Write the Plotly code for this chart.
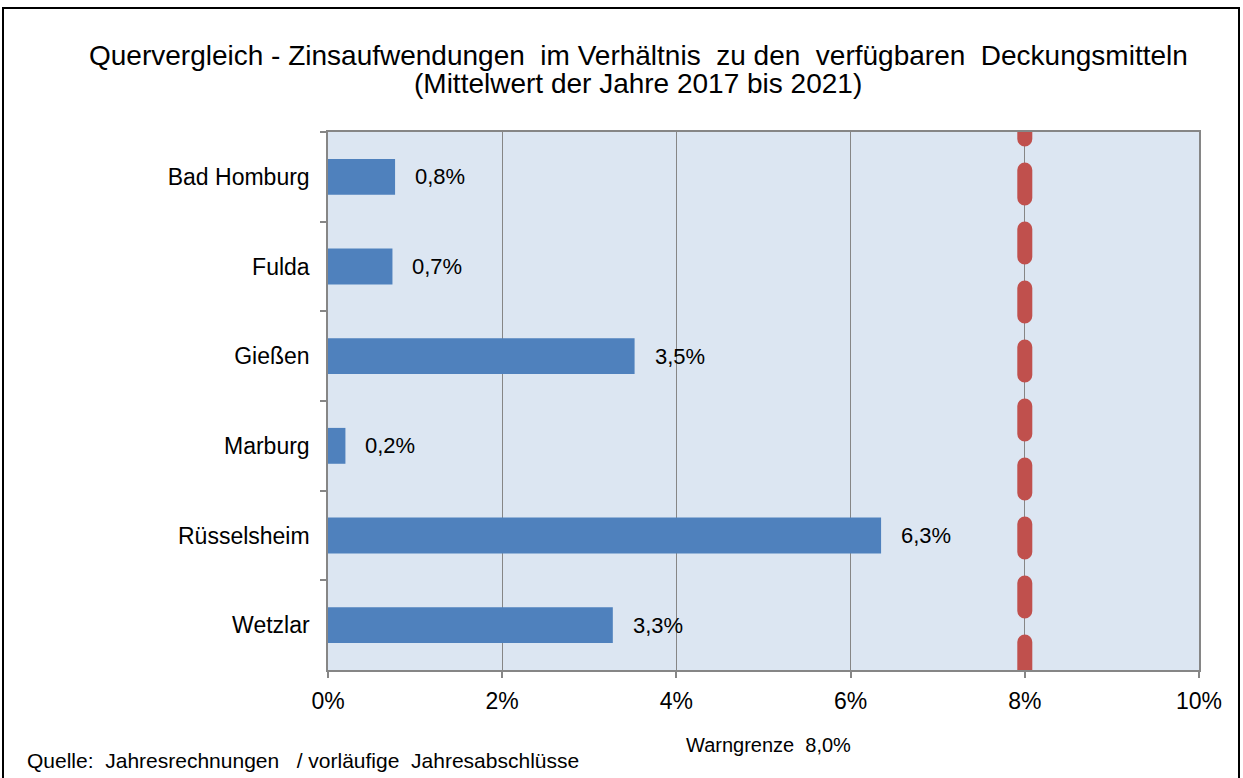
import plotly.graph_objects as go

categories = ["Bad Homburg", "Fulda", "Gießen", "Marburg", "Rüsselsheim", "Wetzlar"]
values = [0.77, 0.74, 3.52, 0.2, 6.35, 3.27]
value_labels = ["0,8%", "0,7%", "3,5%", "0,2%", "6,3%", "3,3%"]
x_ticks = [0, 2, 4, 6, 8, 10]
x_tick_labels = ["0%", "2%", "4%", "6%", "8%", "10%"]
warn_limit = 8.0
warn_label = "Warngrenze  8,0%"
title_lines = ["Quervergleich - Zinsaufwendungen  im Verhältnis  zu den  verfügbaren  Deckungsmitteln",
               "(Mittelwert der Jahre 2017 bis 2021)"]
source_text = "Quelle:  Jahresrechnungen   / vorläufige  Jahresabschlüsse"

FONT = "Liberation Sans, Arial, sans-serif"
W, H = 1243, 778
L, R, T, B = 328, 44, 132, 108
pw, ph = W - L - R, H - T - B

def px(x):
    return (x - L) / pw

def py(y):
    return (H - B - y) / ph

n = len(categories)

fig = go.Figure()
fig.add_trace(go.Bar(
    x=values, y=categories, orientation="h",
    marker=dict(color="#4F81BD", line=dict(width=0)),
    width=0.4, hoverinfo="skip",
))

annotations = []
for v, c, lab in zip(values, categories, value_labels):
    annotations.append(dict(x=v, y=c, xref="x", yref="y", text=lab, showarrow=False,
                            xanchor="left", yanchor="middle", xshift=18,
                            font=dict(family=FONT, size=22, color="#000000")))

for line, yc in zip(title_lines, [55, 83]):
    annotations.append(dict(x=px(638), y=py(yc), xref="paper", yref="paper",
                            text=line, showarrow=False,
                            xanchor="center", yanchor="middle", align="center",
                            font=dict(family=FONT, size=28, color="#000000")))
annotations.append(dict(x=px(25), y=py(760), xref="paper", yref="paper",
                        text=source_text, showarrow=False, xanchor="left", yanchor="middle",
                        font=dict(family=FONT, size=21, color="#000000")))
annotations.append(dict(x=px(768), y=py(745), xref="paper", yref="paper",
                        text=warn_label, showarrow=False, xanchor="center", yanchor="middle",
                        font=dict(family=FONT, size=20, color="#000000")))

shapes = [
    dict(type="line", xref="x", yref="y", x0=warn_limit, x1=warn_limit, y0=n - 0.5, y1=-0.9,
         line=dict(color="#C0504D", width=15, dash="28px,31px"), layer="above"),
    dict(type="rect", xref="paper", yref="paper", x0=px(3), x1=px(1239), y0=py(8), y1=py(800),
         line=dict(color="#000000", width=2), fillcolor="rgba(0,0,0,0)"),
]

fig.update_layout(
    width=W, height=H,
    margin=dict(l=L, r=R, t=T, b=B, autoexpand=False),
    paper_bgcolor="#FFFFFF", plot_bgcolor="#DCE6F2",
    showlegend=False, bargap=0.6,
    font=dict(family=FONT, size=22, color="#000000"),
    annotations=annotations, shapes=shapes,
    xaxis=dict(range=[0, 10], tickvals=x_ticks, ticktext=x_tick_labels,
               showgrid=True, gridcolor="#868686", gridwidth=1,
               showline=True, linecolor="#868686", linewidth=1.5, mirror=True,
               ticks="outside", ticklen=6, tickcolor="#868686", tickwidth=1.5,
               ticklabelstandoff=4,
               tickfont=dict(family=FONT, size=23, color="#000000"),
               zeroline=False, fixedrange=True),
    yaxis=dict(range=[n - 0.5, -0.5], autorange=False, tickson="boundaries",
               showline=True, linecolor="#868686", linewidth=1.5, mirror=True,
               ticks="outside", ticklen=6, tickcolor="#868686", tickwidth=1.5,
               showgrid=False, ticklabelstandoff=12,
               tickfont=dict(family=FONT, size=23, color="#000000"), fixedrange=True),
)

post = """
document.body.style.margin = '0';
document.querySelectorAll('.shapelayer path').forEach(function(p){ p.style.strokeLinecap = 'round'; });
"""
fig.write_html("out.html", post_script=post, config={"displayModeBar": False})
